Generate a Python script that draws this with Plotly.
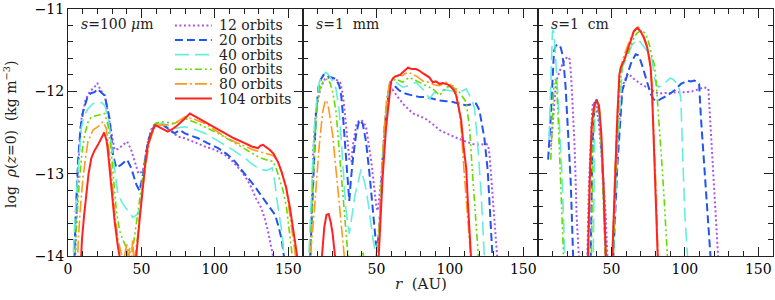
import plotly.graph_objects as go
from plotly.subplots import make_subplots

orbit_labels = ["12 orbits", "20 orbits", "40 orbits", "60 orbits", "80 orbits", "104 orbits"]
panel_labels = ["<i>s</i>=100 <i>μ</i>m", "<i>s</i>=1\u00a0 mm", "<i>s</i>=1\u00a0 cm"]
x_ticks_first = [0, 50, 100, 150]
x_ticks_other = [50, 100, 150]
y_ticks = [-14, -13, -12, -11]

# ---------------- panel 1: s = 100 micron ----------------
r_100um_12 = [4.5, 5.5, 7, 9, 12, 15, 18, 20, 22, 25, 28.3, 31.7, 34, 37, 40.3, 43, 46, 48, 51, 54.4, 57, 59.4, 63.5, 68, 74.8, 79.6, 86, 93.2, 100, 106.8, 112, 118.1, 121.5, 124.9, 128, 131.7, 134, 136.2, 139.6, 140.5]
rho_100um_12 = [-14.2, -13.6, -12.9, -12.35, -12.1, -12.0, -11.95, -11.9, -11.98, -12.05, -12.37, -12.71, -12.70, -12.66, -12.61, -12.71, -12.88, -13.0, -12.97, -12.61, -12.45, -12.39, -12.39, -12.45, -12.55, -12.57, -12.62, -12.67, -12.71, -12.77, -12.85, -12.97, -13.06, -13.17, -13.3, -13.42, -13.55, -13.7, -14.0, -14.2]

r_100um_20 = [4.2, 5, 6.8, 8.5, 10.2, 13.6, 16, 18.1, 20, 21.5, 23, 25, 27, 28.3, 29.5, 30.6, 32.9, 36.3, 40.3, 43, 46.5, 48.7, 51, 54.4, 57, 59.4, 63.5, 68, 72.5, 76, 79.6, 84, 88.6, 95, 102.2, 108, 113.6, 118, 122.6, 127, 131.7, 135, 138.5, 141, 143, 145.5, 147, 147.5]
rho_100um_20 = [-14.2, -13.6, -12.85, -12.45, -12.25, -12.05, -12.02, -12.01, -11.97, -11.99, -12.02, -12.05, -12.2, -12.33, -12.55, -12.77, -12.93, -12.89, -12.83, -12.93, -13.13, -13.21, -13.01, -12.61, -12.47, -12.41, -12.39, -12.45, -12.51, -12.47, -12.51, -12.54, -12.57, -12.63, -12.69, -12.76, -12.85, -12.95, -13.05, -13.15, -13.27, -13.35, -13.43, -13.5, -13.62, -13.8, -14.0, -14.2]

r_100um_40 = [3.2, 4, 5.7, 7.5, 9, 11, 13.6, 17, 20.4, 23, 25, 27, 28.3, 30, 31.7, 34, 37.4, 40.8, 44.2, 47.6, 49.5, 51, 53, 55.5, 59.4, 64.6, 72.5, 79.6, 86, 93.2, 100, 106.8, 113, 120.4, 125, 129.4, 132, 135.1, 139, 140.8, 142.5, 145.8, 147.3, 147.8]
rho_100um_40 = [-14.2, -13.8, -13.25, -12.75, -12.45, -12.3, -12.21, -12.15, -12.13, -12.14, -12.17, -12.3, -12.45, -12.72, -12.97, -13.25, -13.37, -13.45, -13.53, -13.49, -13.35, -13.09, -12.85, -12.61, -12.41, -12.39, -12.45, -12.43, -12.46, -12.51, -12.58, -12.65, -12.72, -12.81, -12.88, -12.93, -12.95, -12.96, -12.93, -13.1, -13.35, -13.73, -14.0, -14.2]

r_100um_60 = [4.5, 5.5, 7.9, 9.5, 11.3, 13.5, 15.9, 18, 20.4, 23, 25, 27.2, 29, 30.6, 32.9, 35.1, 37.4, 40.8, 44.2, 46.5, 48, 49.9, 52, 54.4, 57, 59.4, 64.6, 72.5, 79.6, 84, 88.6, 95, 102.2, 109, 115.8, 120, 124.9, 130, 136.2, 139.6, 142, 144.2, 146.3, 148.7, 151, 152.7, 153.2]
rho_100um_60 = [-14.2, -13.7, -13.05, -12.75, -12.53, -12.38, -12.31, -12.30, -12.29, -12.28, -12.27, -12.41, -12.65, -12.97, -13.45, -13.69, -13.81, -13.93, -13.9, -13.61, -13.4, -13.17, -12.9, -12.65, -12.48, -12.39, -12.37, -12.39, -12.33, -12.36, -12.39, -12.45, -12.51, -12.58, -12.65, -12.7, -12.75, -12.8, -12.84, -12.85, -12.95, -13.08, -13.2, -13.4, -13.73, -14.0, -14.2]

r_100um_80 = [6.3, 7, 8.5, 10.2, 12, 13.6, 17, 20.4, 22, 23.8, 26.1, 27.8, 29.5, 31.7, 34, 36.3, 38, 40, 41, 42, 43, 44, 45, 46, 47.6, 49, 51, 53, 55.5, 59.4, 65.7, 72.5, 79.6, 86, 93.2, 100, 106.8, 113, 120.4, 126, 131.7, 136, 139.6, 142.5, 145.3, 148.5, 151, 153, 154.9, 155.3]
rho_100um_80 = [-14.2, -13.8, -13.4, -13.05, -12.8, -12.61, -12.47, -12.43, -12.40, -12.37, -12.45, -12.7, -12.97, -13.45, -13.81, -13.97, -14.05, -13.85, -14.1, -13.9, -14.1, -13.8, -14.1, -13.95, -13.73, -13.45, -13.17, -12.88, -12.61, -12.41, -12.41, -12.39, -12.31, -12.34, -12.39, -12.47, -12.55, -12.61, -12.67, -12.71, -12.74, -12.76, -12.78, -12.83, -12.97, -13.15, -13.5, -13.75, -14.0, -14.2]

r_100um_104 = [8.5, 9.5, 11, 12.5, 14, 15.9, 18, 20.4, 22, 23.8, 24.6, 25.4, 26.3, 27.2, 29.5, 31.7, 34, 35.1, 35.6, None, 46, 46.5, 48.7, 51, 52.5, 54.4, 57, 59.4, 63.5, 68, 71, 74.8, 79.6, 83, 88, 93.2, 100, 106.8, 113, 120.4, 125, 129.4, 131, 132.8, 135, 137.3, 140, 143, 145.5, 148.5, 151, 153, 155, 156, 156.4]
rho_100um_104 = [-14.2, -13.8, -13.5, -13.25, -13.0, -12.81, -12.72, -12.65, -12.6, -12.53, -12.5, -12.55, -12.6, -12.73, -13.17, -13.57, -13.89, -14.0, -14.2, None, -14.2, -14.0, -13.57, -13.13, -12.9, -12.65, -12.5, -12.41, -12.45, -12.49, -12.46, -12.41, -12.33, -12.27, -12.32, -12.37, -12.44, -12.51, -12.57, -12.63, -12.67, -12.69, -12.66, -12.65, -12.68, -12.71, -12.76, -12.86, -12.98, -13.17, -13.4, -13.65, -13.9, -14.0, -14.2]

# ---------------- panel 2: s = 1 mm ----------------
r_1mm_12 = [4.8, 5.5, 7, 9, 12, 15, 18, 21, 24, 25.5, 27.2, 29.5, 31.7, 33, 34, 36.3, 38, 39.7, 41.5, 43.1, 45, 46.5, 48.7, 50, 51, 53.3, 55.5, 57, 58.9, 61, 65, 68, 72.5, 76, 79.4, 84, 88.4, 93, 97.5, 102, 106.5, 111, 115.6, 120, 124.7, 126, 127, 128, 129.2, 131.5, 132.6, 133]
rho_1mm_12 = [-14.2, -13.6, -12.7, -12.2, -11.95, -11.85, -11.83, -11.85, -11.87, -11.9, -12.05, -12.45, -12.85, -12.85, -12.65, -12.41, -12.36, -12.35, -12.38, -12.45, -12.65, -12.85, -13.2, -13.41, -13.45, -13.05, -12.45, -12.2, -12.01, -11.98, -12.08, -12.15, -12.23, -12.28, -12.3, -12.34, -12.4, -12.47, -12.51, -12.55, -12.58, -12.61, -12.64, -12.65, -12.64, -12.65, -12.77, -13.0, -13.25, -13.73, -14.0, -14.2]

r_1mm_20 = [4.5, 5, 6.6, 8.9, 10.5, 12.3, 14, 15.7, 17.5, 19.1, 21, 22.5, 24.7, 26, 27, 28.2, 29.3, 30.5, 31.5, 32.5, 33.8, 36.1, 38.3, 40.6, 42.9, 45.1, 47.4, 49.7, 50.8, 52.4, 54.2, 56.5, 59.2, 62.1, 65.5, 70.1, 74.6, 79.4, 84, 88.4, 93, 97.5, 102, 106.5, 111, 114, 117.9, 120.1, 121.8, 123.5, 125.8, 127.4, 129.2, 129.6]
rho_1mm_20 = [-14.2, -14.0, -13.25, -12.25, -11.95, -11.85, -11.8, -11.79, -11.82, -11.83, -11.85, -11.85, -11.93, -12.05, -12.25, -12.55, -12.85, -13.1, -13.33, -13.1, -12.85, -12.53, -12.35, -12.39, -12.61, -12.97, -13.41, -13.85, -13.9, -13.5, -12.85, -12.29, -11.89, -11.93, -11.99, -12.03, -12.05, -12.07, -12.07, -12.09, -12.11, -12.12, -12.13, -12.15, -12.17, -12.16, -12.15, -12.23, -12.4, -12.57, -12.97, -13.45, -14.0, -14.2]

r_1mm_40 = [3.5, 4, 5.5, 7.7, 9.5, 11.1, 13.5, 15.7, 17.5, 19.1, 21, 22.5, 24.7, 27, 29.3, 31.5, 33.8, 35.5, 37.2, 39.5, 41.7, 43.5, 45.1, 47.4, 49.7, 51.9, 54.2, 56.5, 59.2, 63.3, 67.8, 72.3, 76.9, 79.4, 82, 86.2, 89, 93, 96, 99.8, 103, 106.5, 109, 111.1, 113.4, 115, 116.8, 119, 121.3, 123.5, 124]
rho_1mm_40 = [-14.2, -14.0, -13.45, -12.45, -12.1, -11.89, -11.8, -11.77, -11.8, -11.85, -11.9, -11.97, -12.25, -12.85, -13.45, -13.73, -13.45, -13.25, -13.13, -12.95, -13.09, -13.25, -13.45, -13.77, -14.0, -13.65, -12.85, -12.25, -11.91, -11.89, -11.95, -11.93, -11.89, -11.93, -11.98, -12.09, -12.02, -12.01, -11.98, -11.99, -12.0, -12.01, -11.99, -11.97, -12.05, -12.1, -12.21, -12.65, -13.25, -14.0, -14.2]

r_1mm_60 = [4.5, 5.5, 6.6, 8, 10, 11.5, 13.4, 15, 16.8, 18.5, 20.2, 22.5, 24.7, 27, 29.3, 31.1, 31.6, None, 38, 39, 41, 42, None, 50.5, 51, 53.1, 55.3, 57, 59.2, 63.3, 67.8, 72.3, 76.9, 79.4, 84, 88.4, 93, 97.5, 102, 106.5, 111.1, 112.3, 113.4, 115.6, 117.9, 119.7, 120.2]
rho_1mm_60 = [-14.2, -13.7, -13.05, -12.6, -12.13, -11.97, -11.89, -11.86, -11.85, -11.9, -12.01, -12.25, -12.73, -13.17, -13.65, -14.0, -14.2, None, -14.2, -13.98, -13.97, -14.2, None, -14.2, -14.0, -13.25, -12.45, -12.1, -11.89, -11.85, -11.89, -11.83, -11.87, -11.89, -11.93, -11.97, -12.05, -11.95, -11.93, -12.01, -12.13, -12.3, -12.45, -13.05, -13.65, -14.0, -14.2]

r_1mm_80 = [5, 5.5, 7.7, 9.5, 11.1, 13.4, 15.2, 16.3, 17.5, 20.2, 22.5, 24.7, 27, 28.1, 28.6, None, 50.3, 50.8, 53.1, 55.3, 57, 59.2, 61, 63.3, 65, 67.8, 70, 72.3, 74.5, 76.9, 79.4, 82, 86.2, 89, 93, 97.5, 100, 102, 104, 105.4, 107.7, 110, 112.2, 114.5, 115]
rho_1mm_80 = [-14.2, -13.9, -13.45, -13.0, -12.65, -12.25, -12.11, -12.12, -12.21, -12.53, -12.97, -13.37, -13.77, -14.0, -14.2, None, -14.2, -14.0, -13.25, -12.45, -12.1, -11.89, -11.84, -11.83, -11.8, -11.81, -11.78, -11.77, -11.8, -11.81, -11.85, -11.88, -11.89, -11.92, -11.93, -11.89, -11.91, -11.95, -11.98, -12.09, -12.45, -13.05, -13.57, -14.0, -14.2]

r_1mm_104 = [12, 12.8, 14.5, 16, 17.5, 19, 20.2, 21.8, 22.3, None, 51, 51.5, 53, 54.2, 56.5, 58.7, 60, 61, 62.5, 64.4, 66, 67.8, 70, 71.5, 72.3, 74.5, 76.9, 79.4, 81.5, 83.9, 86, 88.4, 90.5, 93, 95, 97.5, 99, 100.9, 102.5, 104.3, 106, 107.7, 109.5, 111.1, 112.2, 113.5, 114.5, 115]
rho_1mm_104 = [-14.2, -14.0, -13.65, -13.5, -13.49, -13.6, -13.73, -14.0, -14.2, None, -14.2, -14.0, -13.5, -13.05, -12.45, -12.05, -11.88, -11.85, -11.82, -11.81, -11.8, -11.77, -11.74, -11.71, -11.72, -11.73, -11.73, -11.75, -11.78, -11.81, -11.83, -11.89, -11.88, -11.91, -11.9, -11.91, -11.92, -11.95, -11.98, -12.05, -12.2, -12.35, -12.7, -12.93, -13.33, -13.7, -14.0, -14.2]

# ---------------- panel 3: s = 1 cm ----------------
r_1cm_12 = [8.7, 9.8, 10.9, 12, 13.2, 15, 16.6, 18.3, 20, 21.6, 22.5, 23.4, 24.2, 25, 26.3, 27.9, 28.4, None, 33.2, 33.6, 34.7, 35.9, 37, 37.7, 39.3, 40.5, 41.5, 43.8, 46.1, 47.2, 47.7, None, 50.2, 50.6, 52.9, 55.1, 57.4, 60.8, 63, 65.3, 69.9, 74.4, 79, 82, 86, 90, 95, 100, 105, 110, 113, 116, 117.5, 119, 120.8, 122.6, 123.1]
rho_1cm_12 = [-12.67, -12.4, -12.11, -11.95, -11.83, -11.73, -11.67, -11.62, -11.58, -11.61, -11.8, -12.11, -12.4, -12.71, -13.51, -14.0, -14.2, None, -14.2, -14.0, -13.11, -12.51, -12.2, -12.13, -12.17, -12.28, -12.39, -12.91, -13.51, -14.0, -14.2, None, -14.2, -14.0, -13.11, -12.43, -11.95, -11.79, -11.81, -11.85, -11.91, -11.95, -12.0, -12.03, -12.02, -12.02, -12.01, -12.01, -12.0, -11.97, -11.95, -11.97, -12.4, -12.9, -13.4, -14.0, -14.2]

r_1cm_20 = [6.9, 7.8, 8.7, 9.8, 10.9, 12, 13.2, 14.5, 15.5, 16.6, 17.7, 18.8, 20, 21.2, 22.3, 23.9, 24.4, None, 35.5, 35.9, 37, 38.6, 40, 40.9, 42.7, 44.5, 46.1, 46.6, None, 50.8, 51.3, 54, 57.4, 59.7, 61.5, 63.1, 65, 66.5, 68, 69.9, 71.5, 73.3, 75, 76.7, 78.9, 81.4, 83.7, 86, 88.2, 90.5, 92.8, 95, 97.3, 99.5, 101.8, 104, 106.4, 108, 109.7, 110.9, 113.2, 115.4, 117.7, 118.2]
rho_1cm_20 = [-12.83, -12.6, -12.31, -11.9, -11.51, -11.45, -11.43, -11.44, -11.47, -11.55, -11.71, -11.95, -12.31, -12.7, -13.11, -14.0, -14.2, None, -14.2, -14.0, -12.71, -12.15, -12.1, -12.15, -12.51, -13.11, -14.0, -14.2, None, -14.2, -14.0, -12.91, -11.99, -11.87, -11.75, -11.67, -11.6, -11.55, -11.56, -11.63, -11.72, -11.83, -11.93, -12.03, -12.1, -12.12, -12.09, -12.07, -12.05, -12.02, -11.99, -11.95, -11.91, -11.89, -11.87, -11.88, -11.87, -11.88, -11.91, -12.31, -12.91, -13.51, -14.0, -14.2]

r_1cm_40 = [7.5, 8.1, 8.7, 9.3, 9.8, 10.4, 10.9, 11.5, 12.1, 13.2, 14.3, 15.5, 16.6, 18.2, 18.7, None, 37.5, 38.1, 38.7, 39.3, 40.4, 41.5, 42.7, 43.8, 45, 46.1, 46.6, None, 50.8, 51.3, 54, 55.5, 57.4, 59, 60.8, 62.5, 64.2, 66, 67.6, 69, 71, 72.5, 74.4, 76, 77.8, 79.2, 80.5, 82.5, 84.8, 86.5, 88.2, 90, 91.6, 93, 95, 96.3, 97.3, 98.4, 100, 101.8, 102.3]
rho_1cm_40 = [-12.59, -12.2, -11.91, -11.55, -11.29, -11.25, -11.31, -11.45, -11.59, -11.95, -12.31, -12.7, -13.11, -14.0, -14.2, None, -14.2, -13.0, -12.31, -12.15, -12.13, -12.23, -12.55, -12.91, -13.45, -14.0, -14.2, None, -14.2, -14.0, -12.71, -12.2, -11.71, -11.65, -11.59, -11.5, -11.43, -11.4, -11.37, -11.39, -11.43, -11.47, -11.51, -11.55, -11.62, -11.83, -11.92, -11.95, -11.91, -11.89, -11.87, -11.84, -11.85, -11.88, -11.91, -11.98, -12.11, -12.71, -13.51, -14.0, -14.2]

r_1cm_60 = [8.7, 9.3, 9.8, 10.4, 10.9, 12.1, 12.9, 13.7, 14.6, 15.5, 16.4, 17.3, 17.8, None, 35.8, 36.3, 37.5, 38.5, 40.4, 41.8, 43, 44.2, 45.5, 46.2, None, 50.8, 51.3, 53, 54, 55.5, 57.4, 59, 60.8, 62.5, 64.2, 66, 67.6, 69.5, 71, 72.7, 74.4, 76, 77.8, 79.2, 80.3, 81.4, 82.5, 83.7, 84.8, 85.9, 87, 88.2, 88.7]
rho_1cm_60 = [-12.83, -12.5, -12.23, -12.0, -11.87, -11.85, -12.0, -12.31, -12.7, -13.11, -13.55, -14.0, -14.2, None, -14.2, -14.0, -12.6, -12.2, -12.11, -12.2, -12.6, -13.2, -14.0, -14.2, None, -14.2, -14.0, -13.0, -12.55, -12.0, -11.68, -11.62, -11.56, -11.48, -11.4, -11.33, -11.29, -11.27, -11.27, -11.29, -11.35, -11.45, -11.6, -11.67, -11.85, -12.11, -12.4, -12.71, -13.0, -13.31, -13.65, -14.0, -14.2]

r_1cm_80 = [34, 34.5, 35.2, 36.5, 38.1, 39.9, 41.5, 43.1, 44.5, 46, 46.5, None, 50.3, 50.8, 52, 53.5, 55.5, 57.5, 59.5, 61.5, 63.5, 65.3, 67, 68.5, 70, 72, 74, 76, 77.5, 78.6, 79.6, 80.6, 81.5, 82]
rho_1cm_80 = [-14.2, -14.0, -13.05, -12.45, -12.2, -12.12, -12.19, -12.53, -13.11, -14.0, -14.2, None, -14.2, -14.0, -13.2, -12.45, -11.8, -11.62, -11.52, -11.42, -11.33, -11.26, -11.23, -11.22, -11.26, -11.33, -11.43, -11.6, -11.9, -12.35, -12.8, -13.3, -13.9, -14.2]

r_1cm_104 = [33.6, 34, 35.2, 36.5, 38.1, 39.9, 41.5, 43.1, 44.5, 46.1, 46.6, None, 50.2, 50.6, 52.2, 54, 55.4, 56.3, 58.5, 60.8, 63.1, 65.3, 67.6, 69.9, 72.1, 74.4, 76.7, 77.5, 78.3, 79.2, 80.3, 81.4, 81.9]
rho_1cm_104 = [-14.2, -14.0, -13.11, -12.43, -12.19, -12.11, -12.17, -12.51, -13.11, -14.0, -14.2, None, -14.2, -14.0, -13.11, -12.31, -11.8, -11.71, -11.63, -11.51, -11.39, -11.27, -11.23, -11.27, -11.35, -11.47, -11.71, -11.95, -12.35, -12.8, -13.4, -14.0, -14.2]

panels = [
    [(r_100um_12, rho_100um_12), (r_100um_20, rho_100um_20), (r_100um_40, rho_100um_40),
     (r_100um_60, rho_100um_60), (r_100um_80, rho_100um_80), (r_100um_104, rho_100um_104)],
    [(r_1mm_12, rho_1mm_12), (r_1mm_20, rho_1mm_20), (r_1mm_40, rho_1mm_40),
     (r_1mm_60, rho_1mm_60), (r_1mm_80, rho_1mm_80), (r_1mm_104, rho_1mm_104)],
    [(r_1cm_12, rho_1cm_12), (r_1cm_20, rho_1cm_20), (r_1cm_40, rho_1cm_40),
     (r_1cm_60, rho_1cm_60), (r_1cm_80, rho_1cm_80), (r_1cm_104, rho_1cm_104)],
]
for p, panel in enumerate(panels):
    for s, (xs, ys) in enumerate(panel):
        assert len(xs) == len(ys), (p, s, len(xs), len(ys))

colors = ["#aa55ee", "#2255ee", "#66eedd", "#66dd00", "#ff9922", "#ff2222"]
dashes = ["2px,2.5px", "8px,4px", "14px,6px", "7px,3px,2px,3px,2px,3px", "12px,3px,2px,3px", "solid"]
widths = [2, 2, 1.6, 1.6, 1.6, 2]

FONT = "DejaVu Serif"
fig = make_subplots(rows=1, cols=3, shared_yaxes=True, horizontal_spacing=0)

for p, panel in enumerate(panels):
    for s, (xs, ys) in enumerate(panel):
        fig.add_trace(go.Scatter(x=xs, y=ys, mode="lines", name=orbit_labels[s],
                                 line=dict(color=colors[s], width=widths[s], dash=dashes[s]),
                                 connectgaps=False, showlegend=False, hoverinfo="skip"),
                      row=1, col=p + 1)

axis_common = dict(showline=True, linecolor="#222", linewidth=1, mirror="allticks",
                   ticks="inside", tickcolor="#222", ticklen=9, tickwidth=1,
                   showgrid=False, zeroline=False, ticklabeloverflow="allow",
                   tickfont=dict(family=FONT, size=14, color="black"))
for c in range(1, 4):
    tv = x_ticks_first if c == 1 else x_ticks_other
    fig.update_xaxes(range=[0, 160], tickmode="array", tickvals=tv,
                     minor=dict(ticks="inside", ticklen=5, tickcolor="#222",
                                tickmode="array", tickvals=list(range(10, 160, 10))),
                     **axis_common, row=1, col=c)
    fig.update_yaxes(range=[-14, -11], tickmode="array", tickvals=y_ticks,
                     minor=dict(ticks="inside", ticklen=5, tickcolor="#222", dtick=0.2, tick0=-14),
                     showticklabels=(c == 1), **axis_common, row=1, col=c)

# panel labels
for c in range(3):
    xref = "x domain" if c == 0 else f"x{c + 1} domain"
    yref = "y domain" if c == 0 else f"y{c + 1} domain"
    fig.add_annotation(text=panel_labels[c], xref=xref, yref=yref, x=0.045, y=0.94,
                       xanchor="left", yanchor="middle", showarrow=False,
                       font=dict(family=FONT, size=14, color="#222"))

# legend (drawn in the first panel)
for i, lab in enumerate(orbit_labels):
    yy = 1 - (16.7 + 14.85 * i) / 251
    fig.add_shape(type="line", xref="x domain", yref="y domain", x0=0.455, x1=0.612, y0=yy, y1=yy,
                  line=dict(color=colors[i], width=widths[i], dash=dashes[i]))
    fig.add_annotation(text=lab, xref="x domain", yref="y domain", x=0.64, y=yy,
                       xanchor="left", yanchor="middle", showarrow=False, height=14, borderpad=0,
                       font=dict(family=FONT, size=14, color="#222"))

# axis titles
fig.add_annotation(text="log\u00a0 <i>ρ</i>(<i>z</i>=0)\u00a0 (kg m<sup>−3</sup>)", xref="paper", yref="paper",
                   x=0, y=0.49, xshift=-58, textangle=-90, showarrow=False,
                   xanchor="center", yanchor="middle", font=dict(family=FONT, size=14, color="#222"))
fig.add_annotation(text="<i>r</i>\u00a0 (AU)", xref="paper", yref="paper", x=0.5, y=0,
                   yshift=-17, showarrow=False, xanchor="center", yanchor="top",
                   font=dict(family=FONT, size=15, color="#222"))

fig.update_layout(width=775, height=300, margin=dict(l=68, r=1, t=5, b=44),
                  plot_bgcolor="white", paper_bgcolor="white", showlegend=False)

fig.write_html("out.html", config={"displayModeBar": False},
               post_script="document.body.style.margin='0';document.body.style.padding='0';")
